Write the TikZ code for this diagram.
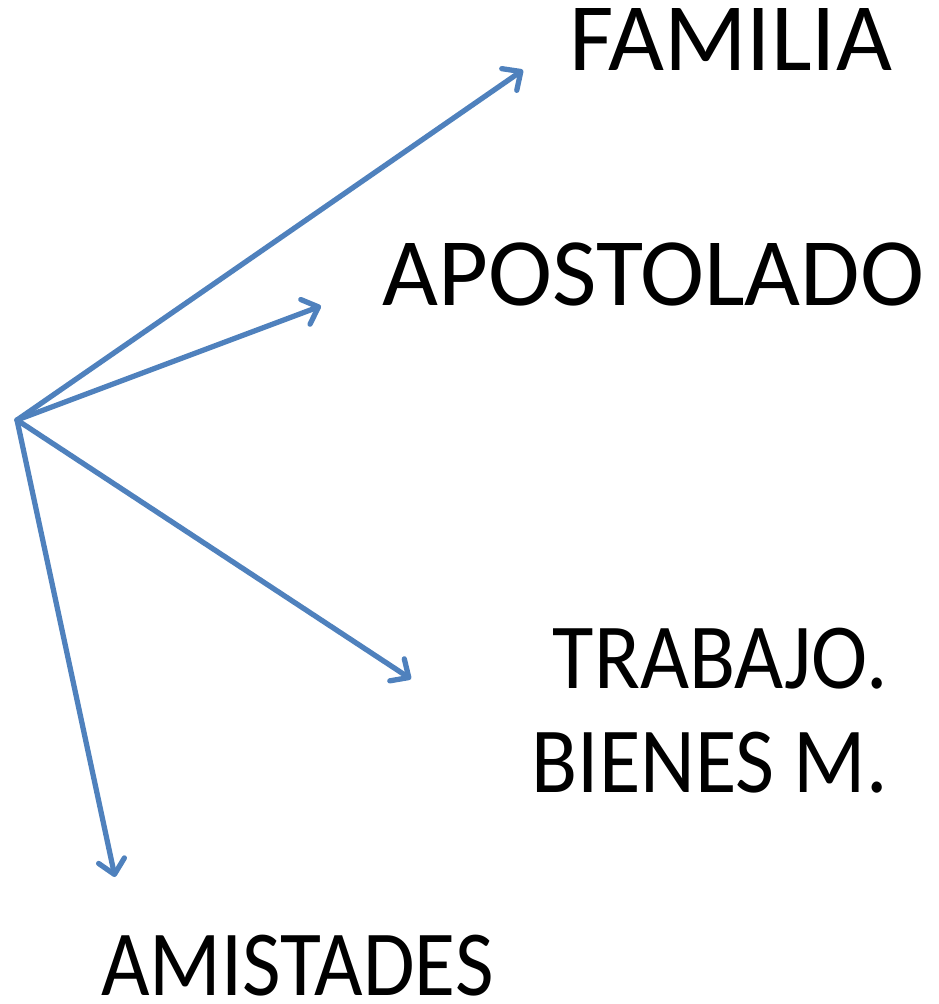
\documentclass[tikz,border=0pt]{standalone}
\usepackage{fontspec}
\setmainfont{Carlito}
\usetikzlibrary{arrows.meta}
\definecolor{flecha}{RGB}{79,129,189}
\tikzset{
  rama/.style={draw=flecha, line width=3pt, line cap=round, -{Straight Barb[round, length=8pt, width=15pt]}},
  rotulo/.style={inner sep=0pt, font=\fontsize{55}{60}\selectfont},
  angosto/.style={inner sep=0pt, font=\fontsize{53}{59}\selectfont}
}
\begin{document}
\begin{tikzpicture}[x=0.02cm,y=-0.02cm]
\useasboundingbox (0,0) rectangle (938,1004);
\coordinate (o) at (17,420);
\coordinate (fam) at (523,70);
\coordinate (apo) at (321,306);
\coordinate (tra) at (411,679);
\coordinate (ami) at (115,877);
\node(familia) at (569,70) [rotulo, anchor=base west]{FAMILIA};
\node(apostolado) at (382,305) [rotulo, anchor=base west]{APOSTOLADO};
\node(trabajo) at (888,792) [angosto, anchor=base east]{\scalebox{0.91}[1]{\begin{tabular}[b]{@{}r@{}}TRABAJO.\\BIENES M.\end{tabular}}};
\node(amistades) at (101,995) [angosto, anchor=base west]{\scalebox{0.9}[1]{AMISTADES}};

\draw [rama] (o) -- (fam);
\draw [rama] (o) -- (apo);
\draw [rama] (o) -- (tra);
\draw [rama] (o) -- (ami);

\end{tikzpicture}
\end{document}
